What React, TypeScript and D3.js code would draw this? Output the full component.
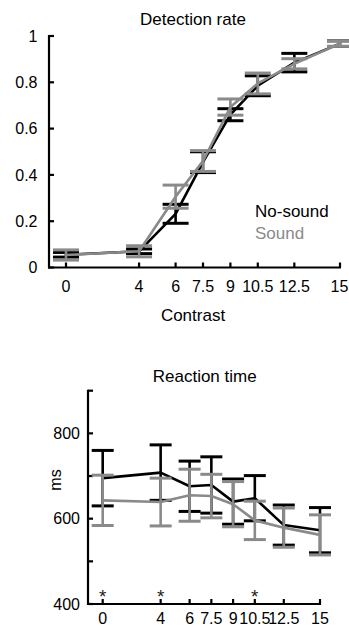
import React from "react";
import * as d3 from "d3";

const contrasts = [0, 4, 6, 7.5, 9, 10.5, 12.5, 15];
const tickLabels = ["0", "4", "6", "7.5", "9", "10.5", "12.5", "15"];

const detNoSound = [0.055, 0.07, 0.232, 0.455, 0.66, 0.785, 0.885, 0.967];
const detNoSoundErr = [0.01, 0.01, 0.041, 0.045, 0.026, 0.043, 0.04, 0.012];
const detSound = [0.054, 0.07, 0.306, 0.46, 0.693, 0.795, 0.88, 0.967];
const detSoundErr = [0.022, 0.024, 0.05, 0.045, 0.035, 0.045, 0.022, 0.012];

const rtNoSound = [695, 708, 676, 679, 640, 648, 585, 573];
const rtNoSoundErr = [65, 65, 59, 66, 53, 53, 47, 53];
const rtSound = [643, 639, 655, 653, 634, 596, 579, 562];
const rtSoundErr = [59, 56, 61, 51, 53, 45, 46, 47];

const starContrasts = [0, 4, 10.5];

const detYTicks = [0, 0.2, 0.4, 0.6, 0.8, 1];
const detYLabels = ["0", "0.2", "0.4", "0.6", "0.8", "1"];
const rtYTicks = [400, 500, 600, 700, 800, 900];
const rtYLabelled = [400, 600, 800];

const BLACK = "#000";
const GRAY = "#8a8a8a";
const FONT = "'Liberation Sans', Arial, Helvetica, sans-serif";

type SeriesProps = {
  xs: number[];
  ys: number[];
  errs: number[];
  x: d3.ScaleLinear<number, number>;
  y: d3.ScaleLinear<number, number>;
  color: string;
  capHalf: number;
  lw: number;
  capW: number;
};

function Series({ xs, ys, errs, x, y, color, capHalf, lw, capW }: SeriesProps) {
  const line = d3
    .line<number>()
    .x((_, i) => x(xs[i]))
    .y((d) => y(d));
  return (
    <g>
      {ys.map((v, i) => {
        const cx = x(xs[i]);
        const top = y(v + errs[i]);
        const bot = y(v - errs[i]);
        return (
          <g key={i} stroke={color}>
            <line x1={cx} x2={cx} y1={top} y2={bot} strokeWidth={lw} />
            <line x1={cx - capHalf} x2={cx + capHalf} y1={top} y2={top} strokeWidth={capW} />
            <line x1={cx - capHalf} x2={cx + capHalf} y1={bot} y2={bot} strokeWidth={capW} />
          </g>
        );
      })}
      <path d={line(ys) || ""} fill="none" stroke={color} strokeWidth={lw} strokeLinejoin="round" />
    </g>
  );
}

export default function App() {
  // Top chart scales
  const x1 = d3.scaleLinear().domain([0, 15]).range([66, 340]);
  const y1 = d3.scaleLinear().domain([0, 1]).range([267.5, 36]);
  // Bottom chart scales
  const x2 = d3.scaleLinear().domain([0, 15]).range([102.7, 320]);
  const y2 = d3.scaleLinear().domain([400, 900]).range([604, 390.7]);

  const axisW = 2.2;
  const tickLen = 5;

  return (
    <svg
      width={349}
      height={627}
      style={{ position: "absolute", left: 0, top: 0, background: "#fff" }}
      fontFamily={FONT}
    >
      {/* ===== Top chart: Detection rate ===== */}
      <text x={193} y={25} fontSize={17} textAnchor="middle">
        Detection rate
      </text>
      <line x1={49} x2={49} y1={y1(1) - 1} y2={y1(0) + 1} stroke={BLACK} strokeWidth={axisW} />
      <line x1={48} x2={341} y1={y1(0)} y2={y1(0)} stroke={BLACK} strokeWidth={axisW} />
      {detYTicks.map((t, i) => (
        <g key={i}>
          <line x1={49} x2={49 + tickLen} y1={y1(t)} y2={y1(t)} stroke={BLACK} strokeWidth={axisW} />
          <text x={37.5} y={y1(t)} dy="0.36em" fontSize={16} textAnchor="end">
            {detYLabels[i]}
          </text>
        </g>
      ))}
      {contrasts.map((c, i) => (
        <g key={i}>
          <line x1={x1(c)} x2={x1(c)} y1={y1(0)} y2={y1(0) - tickLen} stroke={BLACK} strokeWidth={axisW} />
          <text x={Math.min(x1(c), 339.5)} y={292} fontSize={16} textAnchor="middle">
            {tickLabels[i]}
          </text>
        </g>
      ))}
      <text x={193} y={321} fontSize={17} textAnchor="middle">
        Contrast
      </text>
      <Series xs={contrasts} ys={detNoSound} errs={detNoSoundErr} x={x1} y={y1} color={BLACK} capHalf={13} lw={2.6} capW={3} />
      <Series xs={contrasts} ys={detSound} errs={detSoundErr} x={x1} y={y1} color={GRAY} capHalf={13} lw={2.6} capW={3} />
      <text x={255} y={216.7} fontSize={17} fill={BLACK}>
        No-sound
      </text>
      <text x={255} y={239} fontSize={17} fill={GRAY}>
        Sound
      </text>

      {/* ===== Bottom chart: Reaction time ===== */}
      <text x={204.7} y={381.7} fontSize={17} textAnchor="middle">
        Reaction time
      </text>
      <line x1={88} x2={88} y1={y2(900) - 1} y2={y2(400) + 1} stroke={BLACK} strokeWidth={axisW} />
      <line x1={87} x2={321} y1={y2(400)} y2={y2(400)} stroke={BLACK} strokeWidth={axisW} />
      {rtYTicks.map((t, i) => (
        <g key={i}>
          <line x1={88} x2={88 + tickLen} y1={y2(t)} y2={y2(t)} stroke={BLACK} strokeWidth={axisW} />
          {rtYLabelled.includes(t) && (
            <text x={80} y={y2(t)} dy="0.36em" fontSize={16} textAnchor="end">
              {t}
            </text>
          )}
        </g>
      ))}
      <text transform={`translate(55,480) rotate(-90)`} fontSize={16} textAnchor="middle" dy="0.36em">
        ms
      </text>
      {contrasts.map((c, i) => (
        <g key={i}>
          <line x1={x2(c)} x2={x2(c)} y1={y2(400)} y2={y2(400) - tickLen} stroke={BLACK} strokeWidth={axisW} />
          <text x={x2(c)} y={624} fontSize={16} textAnchor="middle">
            {tickLabels[i]}
          </text>
        </g>
      ))}
      <Series xs={contrasts} ys={rtNoSound} errs={rtNoSoundErr} x={x2} y={y2} color={BLACK} capHalf={11} lw={2.6} capW={3} />
      <Series xs={contrasts} ys={rtSound} errs={rtSoundErr} x={x2} y={y2} color={GRAY} capHalf={11} lw={2.6} capW={3} />
      {starContrasts.map((c, i) => (
        <text key={i} x={x2(c)} y={603} fontSize={19} textAnchor="middle" fill="#222">
          *
        </text>
      ))}
    </svg>
  );
}
